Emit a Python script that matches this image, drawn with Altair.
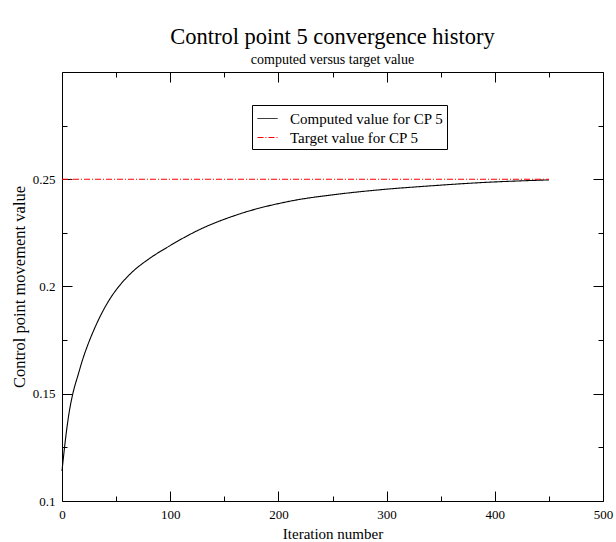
import altair as alt
import pandas as pd

# Computed control-point movement per iteration
iterations = [0, 4, 7, 10, 15, 19, 24, 29, 35, 44, 53, 65, 81, 99, 127, 164, 210, 256, 294, 340, 386, 450]
computed = [0.114, 0.132, 0.1425, 0.150, 0.159, 0.1658, 0.1730, 0.1792, 0.1858, 0.1940, 0.2003, 0.2068,
            0.2131, 0.2188, 0.2265, 0.2338, 0.2397, 0.2431, 0.2451, 0.2469, 0.2484, 0.2497]

# Target value (constant)
target_iterations = [0, 450]
target = [0.25, 0.25]

series_names = ["Computed value for CP 5", "Target value for CP 5"]
series_colors = ["black", "#ff0000"]
series_dashes = [[1, 0], [6, 2, 1, 2]]

x_major = [0, 100, 200, 300, 400, 500]
x_minor = [50, 150, 250, 350, 450]
y_major = [0.1, 0.15, 0.2, 0.25]
y_minor = [0.125, 0.175, 0.225, 0.275]

FONT = "Liberation Serif"

df = pd.concat([
    pd.DataFrame({"iter": iterations, "value": computed, "series": series_names[0]}),
    pd.DataFrame({"iter": target_iterations, "value": target, "series": series_names[1]}),
])

xscale = alt.Scale(domain=[0, 500], nice=False, zero=False)
yscale = alt.Scale(domain=[0.1, 0.3], nice=False, zero=False)


def tick_axis(orient, values, size, labels=False, title=None, fmt=None, padding=7,
              title_padding=5, title_size=15):
    # inward ticks: the axis is pulled inside the frame by its own tick length
    kw = dict(
        orient=orient, values=values, tickSize=size, offset=-size, domain=False, grid=False,
        tickColor="black", tickWidth=1, labels=labels, title=title,
    )
    if labels:
        kw.update(labelFont=FONT, labelFontSize=13, labelColor="black", labelPadding=padding,
                  format=fmt, labelFlush=False, labelOverlap=False)
    if title:
        kw.update(titleFont=FONT, titleFontSize=title_size, titleFontWeight="normal",
                  titleColor="black", titlePadding=title_padding)
    return alt.Axis(**kw)


legend = alt.Legend(
    orient="none", legendX=190, legendY=33, title=None,
    symbolType="stroke", symbolSize=400, symbolStrokeWidth=1, symbolOffset=2,
    labelFont=FONT, labelFontSize=15, labelColor="black", labelLimit=0,
    labelOffset=12, padding=3, rowPadding=0,
    strokeColor="black", fillColor="white",
)

lines = alt.Chart(df).mark_line(strokeWidth=1.1, interpolate="monotone").encode(
    x=alt.X("iter:Q", scale=xscale,
            axis=tick_axis("bottom", x_major, 10, labels=True, title="Iteration number",
                           fmt="d", padding=7, title_padding=5)),
    y=alt.Y("value:Q", scale=yscale,
            axis=tick_axis("left", y_major, 10, labels=True, title="Control point movement value",
                           fmt="~g", padding=7, title_padding=5, title_size=16.5)),
    color=alt.Color("series:N", scale=alt.Scale(domain=series_names, range=series_colors),
                    legend=legend),
    strokeDash=alt.StrokeDash("series:N", scale=alt.Scale(domain=series_names, range=series_dashes),
                              legend=legend),
)


def ghost(x_axis, y_axis):
    return alt.Chart(df).mark_point(opacity=0).encode(
        x=alt.X("iter:Q", scale=xscale, axis=x_axis),
        y=alt.Y("value:Q", scale=yscale, axis=y_axis),
    )


minor_bl = ghost(tick_axis("bottom", x_minor, 5), tick_axis("left", y_minor, 5))
major_tr = ghost(tick_axis("top", x_major, 10), tick_axis("right", y_major, 10))
minor_tr = ghost(tick_axis("top", x_minor, 5), tick_axis("right", y_minor, 5))

chart = alt.layer(lines, minor_bl, major_tr, minor_tr).resolve_axis(
    x="independent", y="independent"
).properties(
    width=541,
    height=429,
    title=alt.TitleParams(
        text="Control point 5 convergence history",
        subtitle="computed versus target value",
        font=FONT, fontSize=22.5, fontWeight="normal", color="black",
        subtitleFont=FONT, subtitleFontSize=14, subtitleColor="black",
        subtitlePadding=4, offset=5, anchor="middle",
    ),
    autosize=alt.AutoSizeParams(type="none"),
    padding={"left": 62, "top": 72, "right": 13, "bottom": 41},
    background="white",
).configure_view(stroke="black", strokeWidth=1)

chart.save("out.html", embed_options={"renderer": "svg", "actions": False})
